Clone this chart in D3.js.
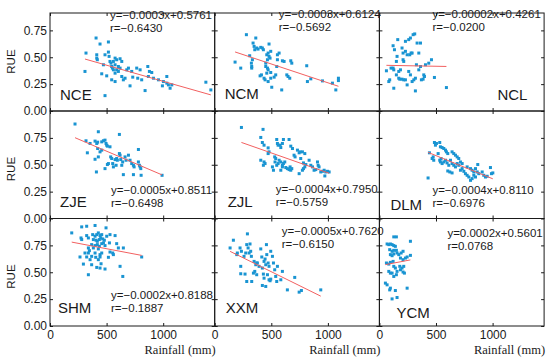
<!DOCTYPE html>
<html>
<head>
<meta charset="utf-8">
<script src="https://cdn.jsdelivr.net/npm/d3@7"></script>
<style>
  body { margin: 0; background: #fff; }
  svg { font-family: "Liberation Sans", Arial, sans-serif; }
</style>
</head>
<body>
<div id="chart"></div>
<script>
// rainfall (mm), RUE
let nce = [[309,0.368],[318,0.539],[413,0.523],[413,0.492],[418,0.477],[407,0.679],[442,0.623],[516,0.642],[486,0.523],[516,0.548],
  [522,0.508],[530,0.461],[539,0.445],[545,0.414],[551,0.399],[560,0.383],[575,0.352],[589,0.383],[604,0.368],[604,0.414],
  [619,0.399],[472,0.430],[457,0.346],[501,0.327],[545,0.290],[575,0.274],[486,0.143],[619,0.486],[634,0.321],[648,0.290],
  [663,0.305],[678,0.383],[693,0.399],[722,0.368],[707,0.234],[731,0.315],[766,0.399],[775,0.305],[796,0.383],[810,0.290],
  [840,0.190],[864,0.414],[869,0.321],[878,0.368],[899,0.358],[914,0.305],[958,0.290],[1002,0.274],[1032,0.321],[1032,0.259],
  [1046,0.243],[1061,0.212],[1076,0.243],[993,0.234],[1377,0.268],[1421,0.196],[560,0.461],[575,0.430],[589,0.477],[575,0.492],[634,0.461]]
let ncm = [[180,0.455],[230,0.399],[280,0.710],[309,0.514],[324,0.445],[327,0.414],[327,0.399],[333,0.477],[339,0.632],[348,0.601],
  [354,0.570],[363,0.679],[371,0.586],[383,0.576],[407,0.592],[421,0.586],[430,0.570],[401,0.327],[413,0.336],[436,0.305],
  [445,0.290],[472,0.274],[480,0.623],[460,0.523],[472,0.539],[480,0.508],[495,0.555],[489,0.492],[466,0.477],[451,0.445],
  [451,0.414],[466,0.399],[472,0.383],[460,0.352],[495,0.358],[495,0.305],[504,0.221],[554,0.523],[569,0.539],[554,0.477],
  [548,0.414],[539,0.336],[525,0.315],[592,0.196],[598,0.467],[613,0.461],[637,0.336],[648,0.321],[663,0.305],[672,0.467],
  [681,0.445],[813,0.421],[819,0.274],[849,0.299],[952,0.280],[1040,0.259],[1070,0.196],[1093,0.305],[1093,0.283]]
let ncl = [[62,0.374],[91,0.290],[83,0.274],[103,0.399],[121,0.399],[127,0.383],[121,0.607],[127,0.212],[133,0.570],[150,0.461],
  [156,0.508],[162,0.664],[150,0.336],[171,0.305],[180,0.296],[200,0.296],[215,0.290],[230,0.290],[171,0.368],[186,0.383],
  [200,0.586],[209,0.539],[209,0.477],[215,0.461],[230,0.648],[230,0.555],[245,0.523],[259,0.664],[268,0.523],[280,0.539],
  [289,0.539],[245,0.243],[274,0.679],[298,0.710],[312,0.717],[259,0.368],[274,0.336],[289,0.274],[304,0.290],[318,0.305],
  [327,0.430],[318,0.187],[333,0.632],[348,0.539],[363,0.632],[348,0.383],[363,0.414],[371,0.290],[386,0.296],[392,0.336],
  [398,0.321],[407,0.430],[436,0.445],[460,0.477],[486,0.312],[592,0.218]]
let zje = [[221,0.879],[330,0.611],[318,0.723],[354,0.698],[398,0.720],[413,0.698],[421,0.710],[427,0.807],[410,0.433],[421,0.651],
  [427,0.573],[398,0.551],[457,0.713],[472,0.723],[486,0.729],[495,0.698],[501,0.682],[507,0.673],[486,0.464],[507,0.502],
  [516,0.511],[530,0.667],[536,0.573],[545,0.558],[554,0.511],[575,0.548],[589,0.558],[584,0.495],[595,0.542],[613,0.782],
  [613,0.604],[619,0.589],[625,0.548],[634,0.495],[642,0.526],[648,0.408],[663,0.573],[672,0.542],[693,0.589],[707,0.542],
  [722,0.511],[737,0.495],[743,0.480],[737,0.408],[781,0.642],[781,0.526],[790,0.495],[796,0.480],[802,0.464],[805,0.402],
  [990,0.402],[442,0.620],[457,0.636],[560,0.480]]
let zjl = [[236,0.847],[407,0.754],[427,0.829],[421,0.707],[436,0.682],[472,0.657],[480,0.620],[472,0.604],[407,0.542],[436,0.526],
  [430,0.495],[445,0.511],[510,0.480],[519,0.449],[530,0.573],[539,0.558],[533,0.526],[548,0.735],[554,0.698],[560,0.682],
  [578,0.682],[584,0.660],[598,0.698],[607,0.735],[548,0.495],[560,0.511],[569,0.542],[584,0.526],[598,0.495],[607,0.511],
  [619,0.526],[584,0.449],[598,0.480],[628,0.474],[642,0.464],[657,0.455],[666,0.480],[672,0.449],[681,0.464],[657,0.735],
  [672,0.673],[687,0.651],[701,0.589],[710,0.573],[731,0.636],[746,0.611],[754,0.620],[775,0.620],[796,0.604],[746,0.417],
  [760,0.558],[784,0.517],[796,0.480],[805,0.502],[775,0.449],[784,0.464],[834,0.542],[849,0.495],[864,0.480],[878,0.449],
  [893,0.455],[908,0.526],[914,0.495],[922,0.480],[937,0.433],[952,0.439],[967,0.449],[981,0.433],[996,0.439],[1011,0.433],[973,0.396]]
let dlm = [[430,0.377],[442,0.611],[466,0.558],[475,0.573],[480,0.542],[486,0.707],[504,0.698],[495,0.682],[533,0.707],[539,0.667],
  [554,0.660],[569,0.651],[519,0.604],[533,0.542],[539,0.526],[545,0.558],[584,0.636],[592,0.620],[604,0.604],[554,0.511],
  [569,0.526],[584,0.542],[598,0.517],[604,0.442],[622,0.433],[642,0.424],[613,0.495],[628,0.542],[642,0.511],[657,0.495],
  [642,0.620],[657,0.604],[672,0.589],[687,0.573],[701,0.558],[672,0.480],[687,0.511],[701,0.495],[716,0.526],[731,0.511],
  [716,0.449],[731,0.464],[746,0.439],[760,0.417],[775,0.402],[790,0.386],[805,0.355],[819,0.371],[834,0.402],[849,0.386],
  [864,0.433],[869,0.502],[775,0.480],[805,0.464],[819,0.449],[834,0.433],[849,0.464],[878,0.417],[908,0.433],[922,0.402],
  [937,0.386],[952,0.393],[981,0.474],[990,0.417],[1002,0.424]]
let shm = [[192,0.866],[280,0.922],[324,0.928],[398,0.935],[495,0.913],[274,0.819],[280,0.804],[324,0.841],[339,0.819],[377,0.850],
  [398,0.835],[413,0.850],[427,0.866],[442,0.841],[457,0.850],[383,0.804],[407,0.798],[418,0.788],[436,0.804],[448,0.819],
  [466,0.810],[480,0.798],[501,0.835],[530,0.850],[575,0.841],[368,0.757],[398,0.748],[418,0.757],[436,0.741],[457,0.766],
  [472,0.773],[486,0.748],[525,0.773],[339,0.726],[348,0.701],[383,0.726],[427,0.717],[589,0.766],[604,0.726],[648,0.726],
  [309,0.679],[339,0.679],[398,0.679],[442,0.664],[457,0.679],[530,0.688],[554,0.679],[560,0.664],[265,0.642],[324,0.642],
  [368,0.648],[404,0.639],[354,0.617],[427,0.617],[442,0.642],[516,0.639],[810,0.642],[295,0.576],[368,0.570],[451,0.579],
  [413,0.545],[442,0.539],[486,0.530],[619,0.555],[339,0.477],[643,0.461]]
let xxm = [[136,0.726],[165,0.798],[200,0.679],[195,0.664],[224,0.726],[236,0.695],[230,0.555],[230,0.486],[259,0.648],[274,0.679],
  [283,0.757],[295,0.726],[289,0.857],[268,0.483],[283,0.414],[304,0.679],[318,0.695],[324,0.648],[312,0.763],[327,0.414],
  [342,0.492],[354,0.508],[348,0.601],[363,0.570],[371,0.586],[371,0.477],[377,0.586],[392,0.555],[407,0.717],[416,0.642],
  [421,0.539],[430,0.483],[436,0.445],[421,0.377],[436,0.601],[445,0.623],[451,0.570],[457,0.757],[460,0.664],[472,0.586],
  [480,0.555],[466,0.477],[480,0.430],[489,0.421],[495,0.436],[495,0.695],[510,0.648],[519,0.586],[530,0.523],[539,0.461],
  [548,0.414],[554,0.555],[451,0.368],[584,0.430],[598,0.508],[642,0.336],[707,0.452],[746,0.315],[766,0.330],[937,0.336]]
let ycm = [[127,0.829],[150,0.829],[68,0.763],[83,0.757],[97,0.763],[112,0.757],[127,0.748],[141,0.741],[274,0.788],[91,0.710],
  [112,0.695],[127,0.704],[150,0.704],[156,0.679],[171,0.664],[192,0.679],[209,0.695],[97,0.664],[112,0.654],[127,0.670],
  [274,0.657],[186,0.632],[209,0.617],[230,0.632],[245,0.642],[62,0.586],[83,0.576],[97,0.592],[121,0.601],[127,0.555],
  [141,0.539],[180,0.555],[200,0.539],[215,0.555],[83,0.508],[97,0.492],[112,0.492],[156,0.508],[186,0.523],[209,0.502],
  [221,0.492],[127,0.461],[150,0.477],[53,0.399],[68,0.383],[91,0.336],[97,0.352],[141,0.330],[245,0.352],[112,0.252],[156,0.265]]

let regions = ['NCE', 'NCM', 'NCL', 'ZJE', 'ZJL', 'DLM', 'SHM', 'XXM', 'YCM']
let series = [nce, ncm, ncl, zje, zjl, dlm, shm, xxm, ycm]
let equations = ['y=−0.0003x+0.5761', 'y=−0.0003x+0.6124', 'y=−0.00002x+0.4261',
  'y=−0.0005x+0.8511', 'y=−0.0004x+0.7950', 'y=−0.0004x+0.8110',
  'y=−0.0002x+0.8188', 'y=−0.0005x+0.7620', 'y=0.0002x+0.5601']
let rValues = ['r=−0.6430', 'r=−0.5692', 'r=−0.0200', 'r=−0.6498', 'r=−0.5759', 'r=−0.6976',
  'r=−0.1887', 'r=−0.6150', 'r=0.0768']
// slope, intercept of the drawn fit lines
let fits = [[-0.0003, 0.5761], [-0.00035, 0.6124], [-0.00002, 0.4261],
  [-0.00045, 0.8511], [-0.00037, 0.795], [-0.00043, 0.80],
  [-0.0002, 0.8188], [-0.00052, 0.765], [0.0002, 0.5601]]
let xTicks = [0, 500, 1000]
let yTicks = [0, 0.25, 0.5, 0.75]

let width = 550, height = 360
let left = 50, colW = 164.7, rowH = 107.5, firstBottom = 111, plotTop = 13

// text placement per panel: [eq dx, eq dy, name dx, name dy, name anchor]
let textPos = [
  [60, -92, 10, -11, 'start'], [64, -93, 10, -12, 'start'], [53, -93, 148, -11, 'end'],
  [61, -25, 10, -12, 'start'], [61, -26, 13, -12, 'start'], [53, -25, 11, -9, 'start'],
  [61, -27, 8, -13, 'start'], [67, -91, 11, -13, 'start'], [68, -89, 17, -8, 'start']
]

let svg = d3.select('#chart')
  .append('svg')
  .attr('width', width)
  .attr('height', height)

let x = d3.scaleLinear().domain([0, 1455]).range([0, colW])
let y = d3.scaleLinear().domain([0, 1]).range([0, -rowH])

let ink = '#1a1a1a'

series.forEach((data, i) => {
  let col = i % 3
  let row = Math.floor(i / 3)
  let bottom = firstBottom + row * rowH
  let top = Math.max(plotTop - bottom, -rowH)

  let g = svg.append('g')
    .attr('transform', `translate(${left + col * colW},${bottom})`)

  let axisFont = a => a.attr('font-family', '"Liberation Sans", Arial, sans-serif')
    .attr('font-size', 12)
    .call(s => s.select('.domain').remove())
    .call(s => s.selectAll('line').attr('stroke', ink))
    .call(s => s.selectAll('text').attr('fill', ink))

  g.append('g')
    .call(d3.axisLeft(y).tickValues(yTicks).tickSize(-3).tickPadding(3)
      .tickFormat(col == 0 ? d3.format('.2f') : ''))
    .call(axisFont)
  g.append('g')
    .attr('transform', `translate(${colW},0)`)
    .call(d3.axisRight(y).tickValues(yTicks).tickSize(-3).tickFormat(''))
    .call(axisFont)
  g.append('g')
    .call(d3.axisBottom(x).tickValues(xTicks).tickSize(-3).tickPadding(4)
      .tickFormat(row == 2 ? d3.format('d') : ''))
    .call(axisFont)
  g.append('g')
    .attr('transform', `translate(0,${top})`)
    .call(d3.axisTop(x).tickValues(xTicks).tickSize(-3).tickFormat(''))
    .call(axisFont)

  g.append('rect')
    .attr('x', 0)
    .attr('y', top)
    .attr('width', colW)
    .attr('height', -top)
    .attr('fill', 'none')
    .attr('stroke', ink)
    .attr('stroke-width', 1)

  g.selectAll('.pt')
    .data(data)
    .join('rect')
    .attr('class', 'pt')
    .attr('x', d => x(d[0]) - 1.5)
    .attr('y', d => y(d[1]) - 1.5)
    .attr('width', 3)
    .attr('height', 3)
    .attr('fill', '#1994d2')

  let ext = d3.extent(data, d => d[0])
  let f = fits[i]
  g.append('line')
    .attr('x1', x(ext[0]))
    .attr('y1', y(f[0] * ext[0] + f[1]))
    .attr('x2', x(ext[1]))
    .attr('y2', y(f[0] * ext[1] + f[1]))
    .attr('stroke', '#f26060')
    .attr('stroke-width', 1)

  let p = textPos[i]
  g.append('text')
    .attr('x', p[0])
    .attr('y', p[1])
    .attr('font-size', 11.5)
    .attr('fill', ink)
    .text(equations[i])
  g.append('text')
    .attr('x', p[0])
    .attr('y', p[1] + 13)
    .attr('font-size', 11.5)
    .attr('fill', ink)
    .text(rValues[i])
  g.append('text')
    .attr('x', p[2])
    .attr('y', p[3])
    .attr('font-size', 15)
    .attr('text-anchor', p[4])
    .attr('fill', ink)
    .text(regions[i])

  if (col == 0) {
    g.append('text')
      .attr('transform', `translate(-35,${y(0.46)}) rotate(-90)`)
      .attr('text-anchor', 'middle')
      .attr('font-size', 11.5)
      .attr('fill', ink)
      .text('RUE')
  }
  if (row == 2) {
    g.append('text')
      .attr('x', colW + 1)
      .attr('y', 28)
      .attr('text-anchor', 'end')
      .attr('font-family', '"Liberation Serif", "Times New Roman", serif')
      .attr('font-size', 12.5)
      .attr('fill', ink)
      .text('Rainfall (mm)')
  }
})
</script>
</body>
</html>
